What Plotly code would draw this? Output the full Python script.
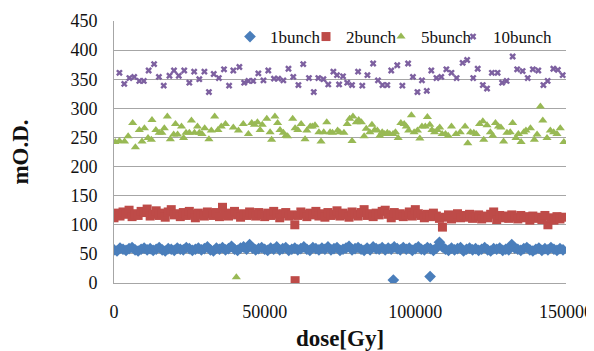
import plotly.graph_objects as go

# ---------------- data (dose in kGy, values in mO.D.) ----------------
b1_dose = [0,1,2,3,4,5,6,7,8,9,10,11,12,13,14,15,16,17,18,19,20,21,22,23,24,25,26,27,28,29,
           30,31,32,33,34,35,36,37,38,39,40,41,42,43,44,45,46,47,48,49,50,51,52,53,54,55,56,57,58,59,
           60,61,62,63,64,65,66,67,68,69,70,71,72,73,74,75,76,77,78,79,80,81,82,83,84,85,86,87,88,89,
           90,91,92,93,94,95,96,97,98,99,100,101,102,103,104,105,106,107,108,109,110,111,112,113,114,115,116,117,118,119,
           120,121,122,123,124,125,126,127,128,129,130,131,132,133,134,135,136,137,138,139,140,141,142,143,144,145,146,147,148,149,
           92.7,104.9]
b1_val = [57,55,60,58,56,59,61,57,55,58,
          60,57,59,56,58,61,57,55,59,58,
          56,60,58,57,61,59,56,58,60,57,
          59,62,57,55,60,58,61,57,59,63,
          58,56,60,62,58,66,60,57,59,61,
          58,56,60,58,62,57,59,61,56,58,
          60,57,59,62,58,56,61,59,57,60,
          58,62,57,59,61,56,58,60,63,57,
          59,61,58,56,60,57,62,59,58,61,
          57,60,58,62,59,57,61,58,60,56,
          59,62,58,57,61,59,56,60,70,62,
          58,56,60,57,59,61,55,58,60,57,
          59,56,58,61,57,55,59,58,60,56,
          58,57,66,60,58,56,59,61,57,55,
          58,60,56,59,57,61,58,56,59,57,
          5,11]

b2_dose = [0,1,2,3,4,5,6,7,8,9,10,11,12,13,14,15,16,17,18,19,20,21,22,23,24,25,26,27,28,29,
           30,31,32,33,34,35,36,37,38,39,40,41,42,43,44,45,46,47,48,49,50,51,52,53,54,55,56,57,58,59,
           60,61,62,63,64,65,66,67,68,69,70,71,72,73,74,75,76,77,78,79,80,81,82,83,84,85,86,87,88,89,
           90,91,92,93,94,95,96,97,98,99,100,101,102,103,104,105,106,107,108,109,110,111,112,113,114,115,116,117,118,119,
           120,121,122,123,124,125,126,127,128,129,130,131,132,133,134,135,136,137,138,139,140,141,142,143,144,145,146,147,148,149,
           60.1]
b2_val = [112,120,115,122,118,125,114,119,116,123,
          121,127,115,118,124,116,120,113,122,126,
          117,119,114,121,116,123,118,112,120,117,
          115,122,119,116,121,114,130,118,115,120,
          123,117,113,119,116,122,118,115,121,117,
          114,120,116,123,118,112,119,121,115,117,
          100,116,122,118,114,120,117,123,115,119,
          113,121,116,118,124,115,120,117,113,122,
          118,115,121,126,116,119,114,120,117,123,
          125,118,112,121,116,119,114,117,122,115,
          126,119,116,112,118,114,120,115,111,96,
          113,117,110,115,119,112,116,113,118,111,
          114,117,110,115,112,118,122,109,116,112,
          115,111,117,113,110,116,112,114,108,115,
          111,113,109,116,100,112,108,114,110,113,
          4]

b5_dose = [0.4,1.8,3.5,4.7,6.2,7.1,8.4,9.3,10.1,11.3,12.4,12.6,13.9,15.0,15.9,16.7,17.7,18.7,19.8,20.4,
           21.1,22.4,23.1,23.9,25.0,25.7,26.7,27.7,28.3,29.2,30.1,31.5,32.3,33.4,34.5,35.6,37.0,
           39.6,40.6,41.3,42.9,44.6,45.7,46.6,47.6,48.5,49.2,50.7,51.8,52.3,53.4,54.3,55.1,56.2,57.0,57.6,
           59.3,60.1,61.0,62.1,63.4,64.0,65.1,65.8,66.7,68.0,68.7,69.6,70.6,71.7,72.5,74.2,
           74.9,76.3,77.4,78.2,79.0,79.3,80.4,81.2,82.1,83.0,83.7,84.9,85.6,86.5,87.4,88.2,89.0,89.8,90.7,
           91.5,92.6,93.4,94.3,95.2,96.3,97.0,97.8,98.7,99.6,100.7,101.5,102.2,103.3,104.0,104.8,105.5,
           106.4,107.3,108.1,108.9,110.0,110.9,112.0,
           113.5,114.9,116.5,117.4,118.3,119.4,120.2,121.3,122.4,122.7,123.8,124.9,125.7,126.6,127.6,
           128.4,129.3,130.4,131.5,132.3,133.4,134.2,135.1,136.0,136.7,138.2,139.5,140.4,141.5,142.3,
           143.7,144.8,145.9,147.0,148.1,149.3]
b5_val = [242,244,243,252,275,233,263,243,266,249,246,280,263,258,258,266,286,247,255,273,
          255,269,249,258,258,279,258,269,258,256,266,247,262,286,263,269,273,
          267,10,262,273,256,275,272,276,263,272,282,259,246,286,275,263,258,253,252,
          282,266,263,273,247,262,269,269,271,259,243,259,276,259,258,262,
          259,258,273,282,244,286,276,280,276,252,265,259,272,263,262,253,259,256,258,
          256,256,259,249,275,273,269,262,288,259,262,248,269,269,285,272,263,
          259,263,267,256,256,253,269,
          256,259,269,240,259,258,256,273,278,246,271,259,253,275,269,
          267,243,258,259,275,249,256,242,259,262,266,246,255,303,279,
          249,262,259,256,266,242]

b10_dose = [1.8,3.4,5.1,6.7,8.4,9.9,11.5,13.3,14.9,16.5,18.4,19.9,21.5,23.3,25.0,26.6,28.3,30.0,31.5,33.1,34.8,36.5,
            38.2,39.6,41.6,43.2,44.6,46.2,47.9,49.6,51.2,53.1,54.5,56.2,57.9,59.5,61.2,62.8,64.7,66.3,67.8,69.5,71.1,72.8,74.0,74.7,
            76.0,77.4,79.0,81.0,82.4,84.1,86.0,87.6,89.1,90.7,92.0,94.0,95.7,97.6,99.2,100.7,102.2,103.8,105.3,107.0,108.6,110.3,112.0,
            113.7,115.7,117.2,119.2,120.7,122.4,123.8,125.4,127.3,128.8,130.3,132.3,133.8,135.6,137.3,139.0,140.8,142.5,143.9,145.8,147.3,148.9]
b10_val = [361,342,352,354,347,347,365,376,354,339,356,365,356,365,344,363,350,363,328,359,352,367,
           339,365,371,344,347,347,360,348,365,351,351,348,368,354,340,376,352,328,352,350,341,363,357,341,
           355,344,340,363,339,357,377,348,340,340,365,374,339,377,354,328,348,330,365,352,354,367,361,
           352,378,383,352,368,340,334,361,361,344,347,389,367,364,352,367,365,340,347,368,366,357]

series_names = ["1bunch", "2bunch", "5bunch", "10bunch"]
x_ticks = [0, 50000, 100000, 150000]
x_tick_text = ["0", "50000", "100000", "150000"]
y_ticks = [0, 50, 100, 150, 200, 250, 300, 350, 400, 450]

# ---------------- figure ----------------
# The page body adds an 8px margin, so the figure is drawn 8px smaller
# and all positions below are in figure pixels (screen pixels - 8).
serif = "'Liberation Serif', 'Times New Roman', serif"
ink = "#111111"
styles = [
    dict(symbol="diamond", size=9, color="#4A7EBB"),
    dict(symbol="square", size=9, color="#BE4B48"),
    dict(symbol="triangle-up", size=8, color="#98B954"),
    dict(symbol="x", size=6, color="#7D60A0"),
]
doses = [b1_dose, b2_dose, b5_dose, b10_dose]
vals = [b1_val, b2_val, b5_val, b10_val]
legend_ids = ["legend", "legend2", "legend3", "legend4"]
legend_left_px = [222, 298, 373, 445]   # left edge of each legend box (figure px)

fig = go.Figure()
for name, d, v, st, lg in zip(series_names, doses, vals, styles, legend_ids):
    fig.add_trace(go.Scatter(
        x=[k * 1000 for k in d], y=v, mode="markers", name=name, legend=lg,
        marker=dict(symbol=st["symbol"], size=st["size"], color=st["color"],
                    line=dict(width=0)),
    ))

W, H = 586, 343
plot_l, plot_r, plot_t, plot_b = 106, 558, 13, 275
legend_common = dict(
    orientation="h", xanchor="left", yanchor="middle",
    xref="paper", yref="paper",
    y=(plot_b - 29) / (plot_b - plot_t),
    font=dict(family=serif, size=17, color=ink),
    bgcolor="rgba(255,255,255,0)", itemwidth=30,
    itemsizing="trace",
)
legends = {}
for lg, lx in zip(legend_ids, legend_left_px):
    legends[lg] = dict(legend_common, x=(lx - plot_l) / (plot_r - plot_l))

fig.update_layout(
    width=W, height=H,
    margin=dict(l=plot_l, r=W - plot_r, t=plot_t, b=H - plot_b, autoexpand=False),
    paper_bgcolor="white", plot_bgcolor="white",
    font=dict(family=serif, size=18, color=ink),
    showlegend=True,
    **legends,
)
fig.update_xaxes(
    range=[0, 150000], tickvals=x_ticks, ticktext=x_tick_text,
    tickfont=dict(family=serif, size=18, color=ink),
    showgrid=False, zeroline=False, showline=True, linecolor="#A6A6A6", linewidth=1,
    ticks="outside", ticklen=12, tickcolor="rgba(0,0,0,0)", automargin=False,
    title=dict(text="<b>dose[Gy]</b>", font=dict(family=serif, size=23, color=ink), standoff=13),
)
fig.update_yaxes(
    range=[0, 450], tickvals=y_ticks,
    tickfont=dict(family=serif, size=18, color=ink),
    showgrid=True, gridcolor="#A6A6A6", gridwidth=1,
    zeroline=False, showline=True, linecolor="#A6A6A6", linewidth=1,
    ticks="outside", ticklen=12, tickcolor="rgba(0,0,0,0)", automargin=False,
    title=dict(text="<b>mO.D.</b>", font=dict(family=serif, size=23, color=ink), standoff=38),
)

fig.write_html("out.html")
